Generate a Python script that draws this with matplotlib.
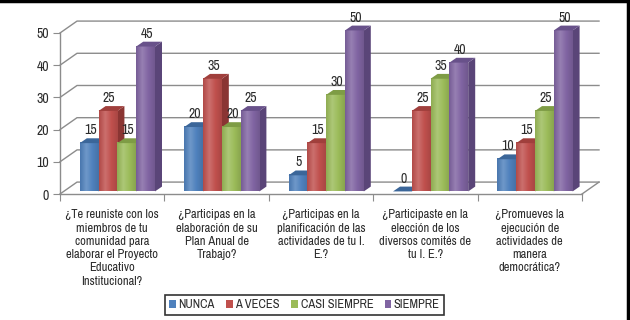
import numpy as np
import matplotlib.pyplot as plt
from matplotlib.patches import Polygon
from matplotlib.lines import Line2D
from matplotlib.colors import LinearSegmentedColormap, to_rgb

# --- data ---
categories = [
    "¿Te reuniste con los\nmiembros de tu\ncomunidad para\nelaborar el Proyecto\nEducativo\nInstitucional?",
    "¿Participas en la\nelaboración de su\nPlan Anual de\nTrabajo?",
    "¿Participas en la\nplanificación de las\nactividades de tu I.\nE.?",
    "¿Participaste en la\nelección de los\ndiversos comités de\ntu I. E.?",
    "¿Promueves la\nejecución de\nactividades de\nmanera\ndemocrática?",
]
series_names = ["NUNCA", "A VECES", "CASI SIEMPRE", "SIEMPRE"]
nunca = [15, 20, 5, 0, 10]
a_veces = [25, 35, 15, 25, 15]
casi_siempre = [15, 20, 30, 35, 25]
siempre = [45, 25, 50, 40, 50]
y_ticks = [0, 10, 20, 30, 40, 50]

# Office 2007 palette: front, side, top faces
front_colors = ["#4F81BD", "#C0504D", "#9BBB59", "#8064A2"]
side_colors = ["#2F5688", "#8A3533", "#6E8A3A", "#5A4578"]
top_colors = ["#3B6699", "#A03F3C", "#7E9C45", "#68518A"]

plt.rcParams['font.family'] = ['Liberation Sans Narrow', 'Archivo Narrow',
                               'Liberation Sans', 'DejaVu Sans']
plt.rcParams['font.size'] = 9
TEXT = "#2B2B2B"
GRID = "#8C8C8C"


def shade_cmap(c):
    """Horizontal gradient for a bar's front face (Excel 2007 look)."""
    r = np.array(to_rgb(c))
    light = r + (1 - r) * 0.18
    return LinearSegmentedColormap.from_list(
        "g", [r * 0.92, light, r, r * 0.88])


fig = plt.figure(figsize=(6.3, 3.2), dpi=100)
ax = fig.add_axes([60 / 630, 1 - 194 / 320, 522 / 630, 161 / 320])

# depth of the back wall and of the bars (data units)
DX, DY = 0.163, 3.7
BDX, BDY = 0.067, 1.5
BW = 0.18
BASE = 0.8

for s in ["top", "right"]:
    ax.spines[s].set_visible(False)
for s in ["left", "bottom"]:
    ax.spines[s].set_color(GRID)
    ax.spines[s].set_linewidth(1.0)

# back wall gridlines + floor
n = len(categories)
for v in y_ticks:
    ax.plot([0, DX, n + DX], [v, v + DY, v + DY], color=GRID, lw=1.0,
            clip_on=False, zorder=1)
ax.plot([n, n + DX], [0, DY], color=GRID, lw=1.0, clip_on=False, zorder=1)

grad = np.linspace(0, 1, 64).reshape(1, -1)
series = [nunca, a_veces, casi_siempre, siempre]
handles = []
for k, vals in enumerate(series):
    x = np.arange(n) + 0.19 + k * BW
    bars = ax.bar(x, vals, width=BW, bottom=BASE, align='edge',
                  color=front_colors[k], zorder=3 + k, clip_on=False,
                  linewidth=0)
    handles.append(bars)
    cmap = shade_cmap(front_colors[k])
    for xi, v in zip(x, vals):
        top = BASE + v
        x1 = xi + BW
        if v > 0:
            ax.imshow(grad, cmap=cmap, extent=[xi, x1, BASE, top], aspect='auto',
                      zorder=3.01 + k, clip_on=False, interpolation='bilinear')
        side = Polygon([(x1, BASE), (x1 + BDX, BASE + BDY), (x1 + BDX, top + BDY), (x1, top)],
                       closed=True, facecolor=side_colors[k], edgecolor='none',
                       zorder=2.9 + k, clip_on=False)
        cap = Polygon([(xi, top), (xi + BDX, top + BDY), (x1 + BDX, top + BDY), (x1, top)],
                      closed=True, facecolor=top_colors[k], edgecolor='none',
                      zorder=3.05 + k, clip_on=False)
        ax.add_patch(side)
        ax.add_patch(cap)
        ax.text(xi + BW / 2 + 0.01, v + 4.8, str(v), ha='center', va='center',
                color=TEXT, fontsize=10, zorder=10)

ax.set_xlim(0, n)
ax.set_ylim(0, 50)

# axes ticks
ax.set_yticks(y_ticks)
ax.tick_params(axis='y', length=5, color=GRID, labelcolor=TEXT, labelsize=10, pad=3)
ax.set_xticks(range(n + 1))
ax.set_xticklabels([])
ax.tick_params(axis='x', which='major', length=5, color=GRID)
ax.set_xticks(np.arange(n) + 0.5, minor=True)
ax.set_xticklabels(categories, minor=True, color=TEXT, fontsize=9, linespacing=1.25)
ax.tick_params(axis='x', which='minor', length=0, pad=11)

leg = fig.legend(handles, series_names, loc='center',
                 bbox_to_anchor=(304.5 / 630, 1 - 305 / 320), ncol=4,
                 frameon=True, fancybox=False, edgecolor='black',
                 handlelength=0.55, handleheight=0.55, handletextpad=0.2,
                 columnspacing=0.9, borderpad=0.35, fontsize=9)
leg.get_frame().set_linewidth(1.2)
for t in leg.get_texts():
    t.set_color(TEXT)

# outer frame of the picture (top and right edges visible)
fig.add_artist(Line2D([0, 1], [1 - 1 / 320, 1 - 1 / 320], color='black', lw=2.5,
                      transform=fig.transFigure))
fig.add_artist(Line2D([1 - 2.5 / 630, 1 - 2.5 / 630], [0, 1], color='black', lw=2.5,
                      transform=fig.transFigure))

fig.savefig("out.png", dpi=100)
